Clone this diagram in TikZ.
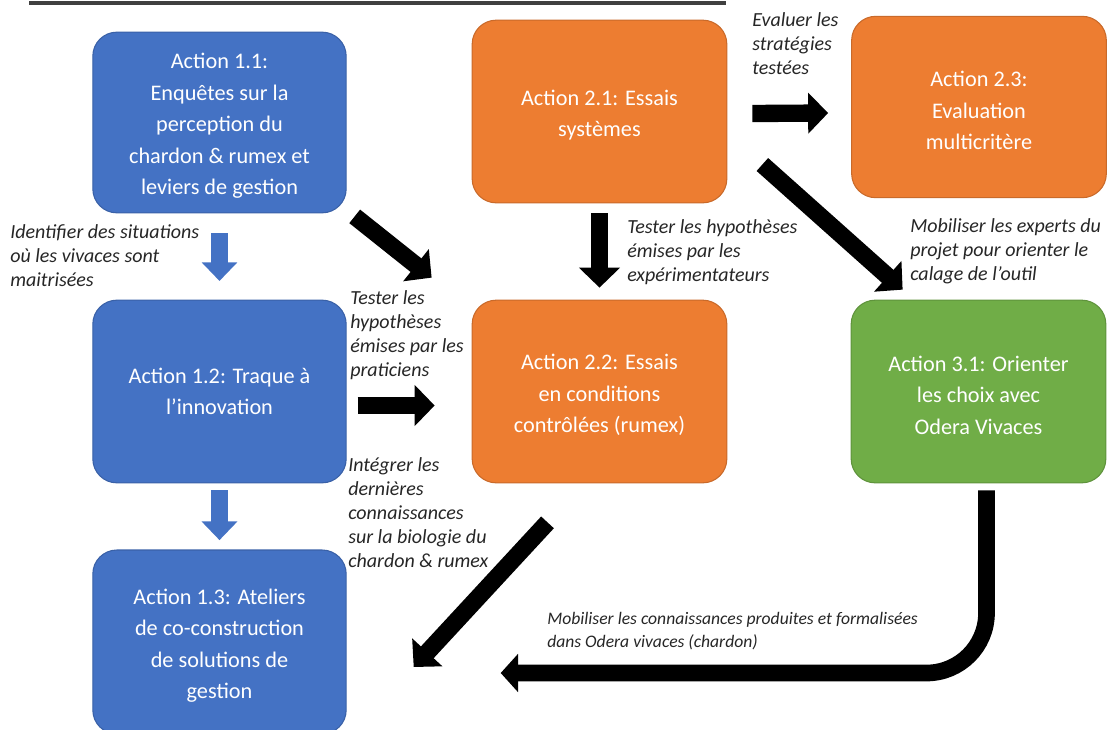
\documentclass[tikz,border=0pt]{standalone}
\usepackage{fontspec}
\setmainfont{Carlito}
\usepackage{xcolor}
\usetikzlibrary{arrows.meta}
\definecolor{actblue}{HTML}{4472C4}
\definecolor{actorange}{HTML}{ED7D31}
\definecolor{actgreen}{HTML}{70AD47}
\newcommand{\topgap}{\rule{0pt}{17pt}}
\tikzset{
  action/.style={rectangle, rounded corners=18pt, line width=0.8pt, text=white, align=center,
    font=\fontsize{16.7pt}{23.6pt}\selectfont, inner sep=2pt},
  bluebox/.style={action, fill=actblue, draw=actblue!85!black},
  orangebox/.style={action, fill=actorange, draw=actorange!85!black},
  greenbox/.style={action, fill=actgreen, draw=actgreen!85!black},
  note/.style={anchor=north west, inner sep=0pt, align=left, text=black!85,
    font=\itshape\fontsize{15pt}{18pt}\selectfont},
  fatarrow/.style={line width=13pt, -{Triangle[length=15pt,width=30pt]}},
  bluearrow/.style={line width=12.5pt, actblue, -{Triangle[length=14pt,width=26pt]}}
}

\begin{document}
\begin{tikzpicture}[x=0.75pt, y=-0.75pt]
    \clip (0,0) rectangle (1107,729);
    \draw[line width=2.4pt, black!75] (29,3) -- (726,3);

    % Nodes
    \node[bluebox, minimum width=190pt, minimum height=135.5pt] (a11) at (219.5,122.5)
        {\topgap Action 1.1:\\Enquêtes sur la\\perception du\\chardon \& rumex et\\leviers de gestion};
    \node[orangebox, minimum width=191pt, minimum height=137pt] (a21) at (599.5,111.5)
        {\topgap Action 2.1: Essais\\systèmes};
    \node[orangebox, minimum width=191pt, minimum height=136pt] (a23) at (979,107)
        {\topgap Action 2.3:\\Evaluation\\multicritère};
    \node[bluebox, minimum width=190pt, minimum height=137pt] (a12) at (219.5,391.5)
        {Action 1.2: Traque à\\l’innovation};
    \node[orangebox, minimum width=191pt, minimum height=137pt] (a22) at (599.5,391.5)
        {\topgap Action 2.2: Essais\\en conditions\\contrôlées (rumex)};
    \node[greenbox, minimum width=191pt, minimum height=137pt] (a31) at (978.5,391.5)
        {\topgap Action 3.1: Orienter\\les choix avec\\Odera Vivaces};
    \node[bluebox, minimum width=190pt, minimum height=138pt] (a13) at (219.5,642)
        {\topgap Action 1.3: Ateliers\\de co-construction\\de solutions de\\gestion};

    % Edges
    \draw[bluearrow] ([yshift=-15pt]a11.south) -- ([yshift=14pt]a12.north);
    \draw[bluearrow] ([yshift=-5pt]a12.south) -- ([yshift=7pt]a13.north);
    \draw[fatarrow] ([shift={(8,3)}]a11.south east) -- ([shift={(-40,-22)}]a22.north west);
    \draw[fatarrow] ([shift={(0,10)}]a21.south) -- ([shift={(0,-12)}]a22.north);
    \draw[fatarrow] ([shift={(25,2)}]a21.east) -- ([shift={(-23,6)}]a23.west);
    \draw[fatarrow] ([shift={(35,53)}]a21.east) -- ([shift={(52,-10)}]a31.north west);
    \draw[fatarrow] ([shift={(11,14)}]a12.east) -- ([shift={(-37,14)}]a22.west);
    \draw[fatarrow] ([shift={(-52,39)}]a22.south) -- ([shift={(67,25)}]a13.east);
    \draw[fatarrow, line width=12.5pt, -{Triangle[length=13pt,width=28pt]}, rounded corners=45pt]
        ([shift={(8,7)}]a31.south) |- ([shift={(154,31)}]a13.east);

    % Labels
    \node[note] (n1) at (10,224) {Identifier des situations\\où les vivaces sont\\maitrisées};
    \node[note] (n2) at (350,290) {Tester les\\hypothèses\\émises par les\\praticiens};
    \node[note] (n3) at (348,457) {Intégrer les\\dernières\\connaissances\\sur la biologie du\\chardon \& rumex};
    \node[note] (n4) at (627,219) {Tester les hypothèses\\émises par les\\expérimentateurs};
    \node[note] (n5) at (752,12) {Evaluer les\\stratégies\\testées};
    \node[note] (n6) at (910,218) {Mobiliser les experts du\\projet pour orienter le\\calage de l’outil};
    \node[note, font=\itshape\fontsize{13.2pt}{17pt}\selectfont] (n7) at (547,612)
        {Mobiliser les connaissances produites et formalisées\\dans Odera vivaces (chardon)};
\end{tikzpicture}
\end{document}
